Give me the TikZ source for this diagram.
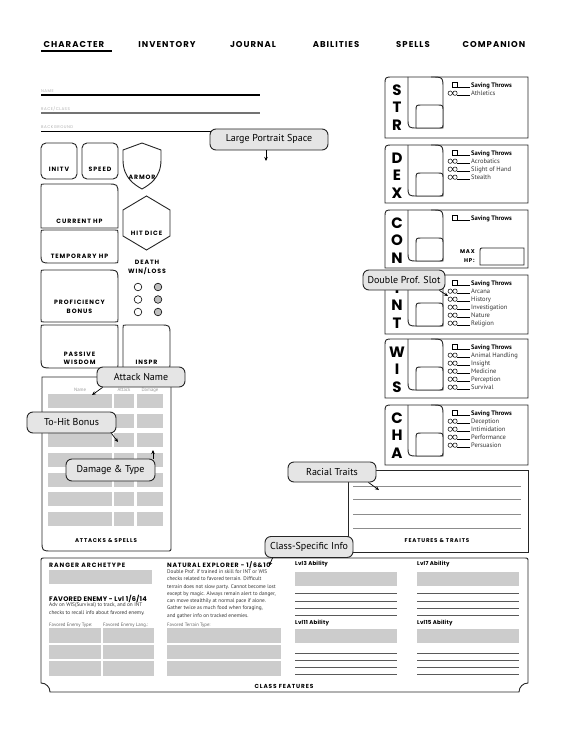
\documentclass[tikz,border=0pt]{standalone}
\usepackage{fontspec}
\setmainfont{PT Sans}
\newfontfamily\hdf[LetterSpace=12]{Poppins}
\newfontfamily\hdl[LetterSpace=15]{Poppins}
\newfontfamily\hdg[LetterSpace=4]{Poppins}
\newfontfamily\ptf{PT Sans}
\usetikzlibrary{arrows.meta,calc}
\newcommand{\abilbox}[6]{%
 \draw[box] (528,#2) -- (393,#2) .. controls (385,#2) .. (385,#2+8) -- (385,#3) -- (528,#3) -- cycle;
 \draw[box] (408,#2) -- (408,#2+41) .. controls (408,#2+51) .. (418,#2+51) -- (443,#2+51) -- (443,#2+12) .. controls (443,#2) .. (431,#2);
 \draw[box,fill=white] (416,#2+51) -- (416,#2+34) .. controls (416,#2+28) .. (422,#2+28) -- (437,#2+28) .. controls (443,#2+28) .. (443,#2+34) -- (443,#2+46) .. controls (443,#2+51) .. (438,#2+51) -- cycle;
 \node[abl] (#1a) at (397,#2+13) {#4};
 \node[abl] (#1b) at (397,#2+30.5) {#5};
 \node[abl] (#1c) at (397,#2+48) {#6};
 \draw[line width=0.5pt] (452.5,#2+5.5) rectangle (457.5,#2+10.5);
 \draw[line width=0.5pt] (457.5,#2+10.5) -- (470,#2+10.5);
 \node[sv] (#1s) at (471,#2+10.5) {Saving Throws};
}
\newcommand{\skillrows}[3]{%
 \foreach \s [count=\k] in {#3} {
   \pgfmathsetmacro{\yy}{#2+10.5+8*\k}
   \draw[line width=0.5pt] (450.2,\yy-2.3) circle (2.2) (455,\yy-2.3) circle (2.2);
   \draw[line width=0.5pt] (457.2,\yy) -- (470,\yy);
   \node[sk] (#1k\k) at (471,\yy) {\s};
 }}
\begin{document}
\begin{tikzpicture}[x=1pt,y=-1pt,
 box/.style={draw=black!85, line width=0.9pt},
 nav/.style={font=\hdf\bfseries\fontsize{8.5}{9}\selectfont, inner sep=0pt},
 lbl/.style={font=\hdl\bfseries\fontsize{6.2}{7}\selectfont, inner sep=0pt, align=center},
 tiny/.style={font=\hdf\fontsize{4}{5}\selectfont, text=black!30, inner sep=0pt, anchor=west},
 gcell/.style={fill=black!20},
 callout/.style={draw=black!85, line width=0.9pt, fill=black!10, rounded corners=6pt, font=\ptf\fontsize{10}{11}\selectfont, inner sep=0pt},
 arr/.style={-{Stealth[length=4pt,width=3.5pt]}, line width=0.7pt},
 abl/.style={font=\hdg\bfseries\fontsize{15}{15}\selectfont, inner sep=0pt},
 sv/.style={font=\ptf\bfseries\fontsize{6.5}{7}\selectfont, inner sep=0pt, anchor=base west},
 sk/.style={font=\ptf\fontsize{6.5}{7}\selectfont, text=black!80, inner sep=0pt, anchor=base west},
 body/.style={font=\ptf\fontsize{5.3}{7.3}\selectfont, inner sep=0pt, anchor=north west, align=left, text=black!80},
 hd2/.style={font=\hdf\bfseries\fontsize{6.2}{7}\selectfont, inner sep=0pt, anchor=west},
 lv/.style={font=\hdg\bfseries\fontsize{5.5}{6.5}\selectfont, inner sep=0pt, anchor=west},
 smallg/.style={font=\ptf\fontsize{4.8}{5}\selectfont, text=black!60, inner sep=0pt, anchor=west},
 fline/.style={draw=black!45, line width=0.8pt},
 aline/.style={draw=black!65, line width=0.6pt}]
\useasboundingbox (0,0) rectangle (570,733);
\fill[white] (0,0) rectangle (570,733);
% navigation
\node[nav] (n1) at (74,45) {CHARACTER};
\node[nav] (n2) at (167,45) {INVENTORY};
\node[nav] (n3) at (253,45) {JOURNAL};
\node[nav] (n4) at (336,45) {ABILITIES};
\node[nav] (n5) at (413,45) {SPELLS};
\node[nav] (n6) at (494,45) {COMPANION};
\draw[line width=2.2pt] (41,51) -- (112,51);
% name lines
\node[tiny] (tn) at (41,91) {NAME};
\draw[line width=1.8pt] (41,95) -- (260,95);
\node[tiny] (tr) at (41,109) {RACE/CLASS};
\draw[line width=1.8pt, black!55] (41,113) -- (260,113);
\node[tiny] (tb) at (41,127) {BACKGROUND};
\coordinate (bgE) at (214,131);
\draw[line width=0.9pt] (41,131) -- (bgE);
% left stat boxes
\draw[box, rounded corners=5pt] (41,143) rectangle (77,179);
\node[lbl] (initv) at (59,169) {INITV};
\draw[box, rounded corners=5pt] (82,143) rectangle (118,179);
\node[lbl] (speed) at (100,169) {SPEED};
\draw[box] (142,143) .. controls (133,147) .. (123,150) -- (123,160) .. controls (123,178) and (135,185) .. (142,189) .. controls (149,185) and (161,178) .. (161,160) -- (161,150) .. controls (151,147) .. (142,143) -- cycle;
\node[lbl] (armor) at (142,177) {ARMOR};
\draw[box] (41,228) -- (41,187) .. controls (41,184) .. (44,184) -- (107,184) .. controls (118,184) .. (118,195) -- (118,228) -- cycle;
\node[lbl] (chp) at (79.5,221) {CURRENT HP};
\draw[box] (41,233) .. controls (41,230) .. (44,230) -- (115,230) .. controls (118,230) .. (118,233) -- (118,260) .. controls (118,263) .. (115,263) -- (51,263) .. controls (41,263) .. (41,253) -- cycle;
\node[lbl] (thp) at (79.5,256) {TEMPORARY HP};
\draw[box] (146.5,196) -- (170,210) -- (170,236) -- (146.5,250) -- (123,236) -- (123,210) -- cycle;
\node[lbl] (hitd) at (146.5,233) {HIT DICE};
\node[lbl] (death1) at (147,262) {DEATH};
\node[lbl] (death2) at (147,271) {WIN/LOSS};
\foreach \yy in {287,299.5,312} {
  \draw[line width=0.6pt] (138,\yy) circle (3.8);
  \filldraw[line width=0.6pt, fill=black!25] (158,\yy) circle (3.8);
}
\draw[box] (41,273) .. controls (41,270) .. (44,270) -- (106,270) .. controls (118,270) .. (118,282) -- (118,319) .. controls (118,322) .. (115,322) -- (44,322) .. controls (41,322) .. (41,319) -- cycle;
\node[lbl] (prof1) at (79.5,302) {PROFICIENCY};
\node[lbl] (prof2) at (79.5,311) {BONUS};
\draw[box] (41,328) .. controls (41,325) .. (44,325) -- (115,325) .. controls (118,325) .. (118,328) -- (118,365) .. controls (118,368) .. (115,368) -- (53,368) .. controls (41,368) .. (41,356) -- cycle;
\node[lbl] (pw1) at (79.5,354) {PASSIVE};
\node[lbl] (pw2) at (79.5,362) {WISDOM};
\draw[box] (123,368) -- (123,328) .. controls (123,325) .. (126,325) -- (160,325) .. controls (170,325) .. (170,335) -- (170,365) .. controls (170,368) .. (167,368) -- cycle;
\node[lbl] (inspr) at (146.5,362) {INSPR};
% attacks
\draw[box] (42,377) -- (171,377) -- (171,547) .. controls (171,551) .. (167,551) -- (52,551) .. controls (42,551) .. (42,541) -- cycle;
\node[smallg, anchor=center, text=black!40] (hn) at (80,390) {Name};
\node[smallg, anchor=center, text=black!40] (ha) at (124,390) {Attack};
\node[smallg, anchor=center, text=black!40] (hdm) at (150,390) {Damage};
\foreach \r in {0,...,6} {
  \pgfmathsetmacro{\ya}{394+19.67*\r}
  \fill[gcell] (48,\ya) rectangle (112,\ya+14);
  \fill[gcell] (114,\ya) rectangle (134,\ya+14);
  \fill[gcell] (137,\ya) rectangle (163,\ya+14);
}
\node[lbl, font=\hdl\bfseries\fontsize{5.5}{6}\selectfont] (atk) at (106,541) {ATTACKS \& SPELLS};
% abilities
\abilbox{str}{77}{138}{S}{T}{R}
\skillrows{str}{77}{Athletics}
\abilbox{dex}{145}{203}{D}{E}{X}
\skillrows{dex}{145}{Acrobatics,Slight of Hand,Stealth}
\abilbox{con}{210}{268}{C}{O}{N}
\node[lbl, anchor=east, font=\hdl\bfseries\fontsize{5.5}{6}\selectfont] (mx1) at (475,252) {MAX};
\node[lbl, anchor=east, font=\hdl\bfseries\fontsize{5.5}{6}\selectfont] (mx2) at (475,261) {HP:};
\draw[box] (480,265) -- (480,252) .. controls (480,248) .. (484,248) -- (524,248) -- (524,265) -- cycle;
\abilbox{int}{275}{334}{I}{N}{T}
\skillrows{int}{275}{Arcana,History,Investigation,Nature,Religion}
\abilbox{wis}{339}{398}{W}{I}{S}
\skillrows{wis}{339}{Animal Handling,Insight,Medicine,Perception,Survival}
\abilbox{cha}{405}{465}{C}{H}{A}
\skillrows{cha}{405}{Deception,Intimidation,Performance,Persuasion}
% features & traits
\draw[box] (348,470) rectangle (528,552);
\foreach \yy in {486,499,514,528} \draw[fline] (353,\yy) -- (521,\yy);
\node[lbl, font=\hdl\bfseries\fontsize{5.5}{6}\selectfont] (ft) at (437,541) {FEATURES \& TRAITS};
% class features
\draw[box] (45,558) -- (524,558) .. controls (528,558) .. (528,562) -- (528,683) .. controls (523,683) and (519,687) .. (519,692) -- (50,692) .. controls (50,687) and (46,683) .. (41,683) -- (41,562) .. controls (41,558) .. (45,558) -- cycle;
\node[hd2, font=\hdl\bfseries\fontsize{6.2}{7}\selectfont] (ra) at (49,565) {RANGER ARCHETYPE};
\fill[gcell] (49,570) rectangle (152,584);
\node[hd2, font=\hdg\bfseries\fontsize{6.6}{7.5}\selectfont] (fe) at (49,599) {FAVORED ENEMY - Lvl 1/6/14};
\node[body] (feb) at (49,603) {Adv on WIS(Survival) to track, and on INT\\checks to recall info about favored enemy.};
\node[smallg] (fet) at (49,625) {Favored Enemy Type:};
\node[smallg] (fel) at (103,625) {Favored Enemy Lang.:};
\node[hd2] (ne) at (167,565) {NATURAL EXPLORER - 1/6\&10};
\node[body] (neb) at (167,569.5) {Double Prof. if trained in skill for INT or WIS\\checks related to favored terrain. Difficult\\terrain does not slow party. Cannot become lost\\except by magic. Always remain alert to danger,\\can move stealthily at normal pace if alone.\\Gather twice as much food when foraging,\\and gather info on tracked enemies.};
\node[smallg] (ftt) at (167,625) {Favored Terrain Type:};
\foreach \ya/\yb in {628/643,645/659,661/676} {
  \fill[gcell] (49,\ya) rectangle (101,\yb);
  \fill[gcell] (103,\ya) rectangle (154,\yb);
  \fill[gcell] (167,\ya) rectangle (281,\yb);
}
\node[lv] (l3) at (295,564) {Lvl3 Ability};
\node[lv] (l7) at (417,564) {Lvl7 Ability};
\node[lv] (l11) at (295,623) {Lvl11 Ability};
\node[lv] (l15) at (417,623) {Lvl15 Ability};
\fill[gcell] (295,572) rectangle (397,586);
\fill[gcell] (417,572) rectangle (519,586);
\fill[gcell] (295,629) rectangle (397,643);
\fill[gcell] (417,629) rectangle (519,643);
\foreach \yy in {593,601,608,615,653,660,667,674} {
  \draw[aline] (295,\yy) -- (397,\yy);
  \draw[aline] (417,\yy) -- (519,\yy);
}
\node[lbl, font=\hdl\bfseries\fontsize{5.8}{6}\selectfont] (cf) at (284,686) {CLASS FEATURES};
% callouts
\node[callout, minimum width=118pt, minimum height=21pt] (lps) at (269,139.5) {Large Portrait Space};
\coordinate (lpsT) at (266,161);
\draw[arr] (lps.south -| lpsT) -- (lpsT);
\node[callout, minimum width=88pt, minimum height=20pt] (an) at (141,377) {Attack Name};
\coordinate (anT) at (92,395);
\draw[arr] ([xshift=6pt]an.south west) -- (anT);
\node[callout, minimum width=89pt, minimum height=21pt] (th) at (71.5,422.5) {To-Hit Bonus};
\coordinate (thT) at (118,442);
\draw[arr] ([xshift=-5pt]th.south east) -- (thT);
\node[callout, minimum width=89pt, minimum height=22pt] (dt) at (110.5,470) {Damage \& Type};
\coordinate (dtT) at (153,450);
\draw[arr] (dt.north -| dtT) -- (dtT);
\node[callout, minimum width=82pt, minimum height=20pt] (dps) at (404,280) {Double Prof. Slot};
\coordinate (dpsT) at (448,296);
\draw[arr] ([xshift=-6pt]dps.south east) -- (dpsT);
\node[callout, minimum width=88pt, minimum height=20pt] (rt) at (332,472) {Racial Traits};
\coordinate (rtT) at (379,490);
\draw[arr] ([xshift=-8pt]rt.south east) -- (rtT);
\node[callout, minimum width=88pt, minimum height=21pt] (csi) at (309,547) {Class-Specific Info};
\coordinate (csiT) at (269,566);
\draw[arr] ([xshift=8pt]csi.south west) -- (csiT);
\end{tikzpicture}
\end{document}
